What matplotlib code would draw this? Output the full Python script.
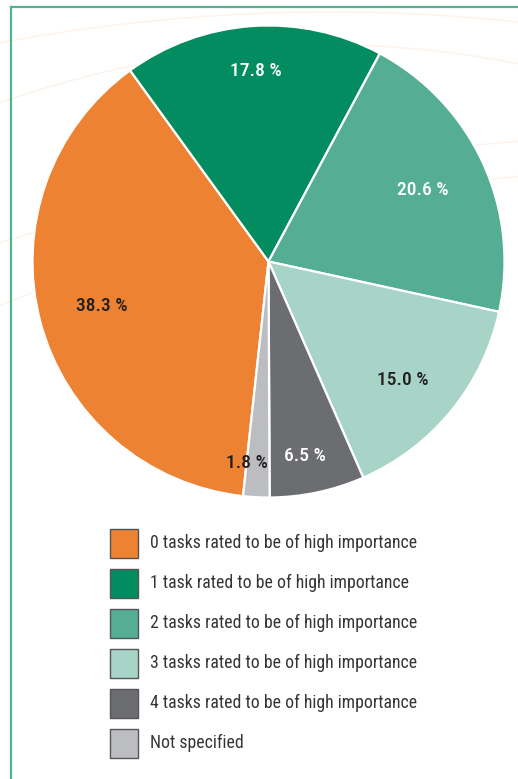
import numpy as np
import matplotlib.pyplot as plt
from matplotlib import font_manager
from matplotlib.patches import Rectangle

# pick a narrow sans if one is around
family = 'DejaVu Sans'
for cand in ['Liberation Sans Narrow', 'Roboto Condensed', 'Open Sans Condensed',
             'Noto Sans Condensed', 'Liberation Sans']:
    try:
        font_manager.findfont(cand, fallback_to_default=False)
        family = cand
        break
    except ValueError:
        pass
plt.rcParams['font.family'] = [family, 'DejaVu Sans']

categories = ['0 tasks rated to be of high importance',
              '1 task rated to be of high importance',
              '2 tasks rated to be of high importance',
              '3 tasks rated to be of high importance',
              '4 tasks rated to be of high importance',
              'Not specified']
shares = [38.3, 17.8, 20.6, 15.0, 6.5, 1.8]
colors = ['#ed8232', '#038c5f', '#55ae94', '#a8d3c7', '#6c6d71', '#bcbdc1']
text_colors = ['#231f20', 'white', 'white', '#231f20', 'white', '#231f20']
label_r = [0.73, 0.81, 0.72, 0.76, 0.84, 0.86]
label_dtheta = [0, 0, 0, -2, -1.5, -3]

W, H = 518, 779
fig = plt.figure(figsize=(W / 100, H / 100), dpi=100)

# faint background arcs
bg = fig.add_axes([0, 0, 1, 1])
bg.set_xlim(0, W)
bg.set_ylim(H, 0)
bg.axis('off')
xs = np.linspace(-10, W + 10, 200)
for apex_x, apex_y, R in [(330, 12, 1770), (330, 45, 940), (700, 134, 2253), (700, 167, 1772)]:
    bg.plot(xs, apex_y + (xs - apex_x) ** 2 / (2 * R), color='#fdf3ea', lw=1.0)

# frame lines
bg.plot([11, 11], [7, H + 5], color='#55b08e', lw=1.6)
bg.plot([11, W + 5], [7, 7], color='#55b08e', lw=1.6)

# pie
cx, cy, rad = 268.5, 261.5, 236
ax = fig.add_axes([(cx - rad) / W, (H - cy - rad) / H, 2 * rad / W, 2 * rad / H])
wedges, _ = ax.pie(shares, colors=colors, startangle=263.8, counterclock=False,
                   radius=1, wedgeprops=dict(edgecolor='white', linewidth=1.6))
ax.set_xlim(-1, 1)
ax.set_ylim(-1, 1)
ax.set_aspect('equal')

for w, v, tc, r, dt in zip(wedges, shares, text_colors, label_r, label_dtheta):
    ang = np.deg2rad((w.theta1 + w.theta2) / 2 + dt)
    ax.text(r * np.cos(ang), r * np.sin(ang), f'{v:.1f} %', color=tc,
            ha='center', va='center', fontsize=14, fontweight='medium')

# legend
leg = fig.add_axes([0, 0, 1, 1])
leg.set_xlim(0, W)
leg.set_ylim(H, 0)
leg.axis('off')
for i, (lab, c) in enumerate(zip(categories, colors)):
    y = 543 + 40 * i
    leg.add_patch(Rectangle((110, y - 14.5), 28, 29, facecolor=c,
                            edgecolor='#555557', lw=1.0))
    leg.text(150, y, lab, ha='left', va='center', fontsize=12.8, color='#353537')

fig.savefig('out.png', dpi=100)
